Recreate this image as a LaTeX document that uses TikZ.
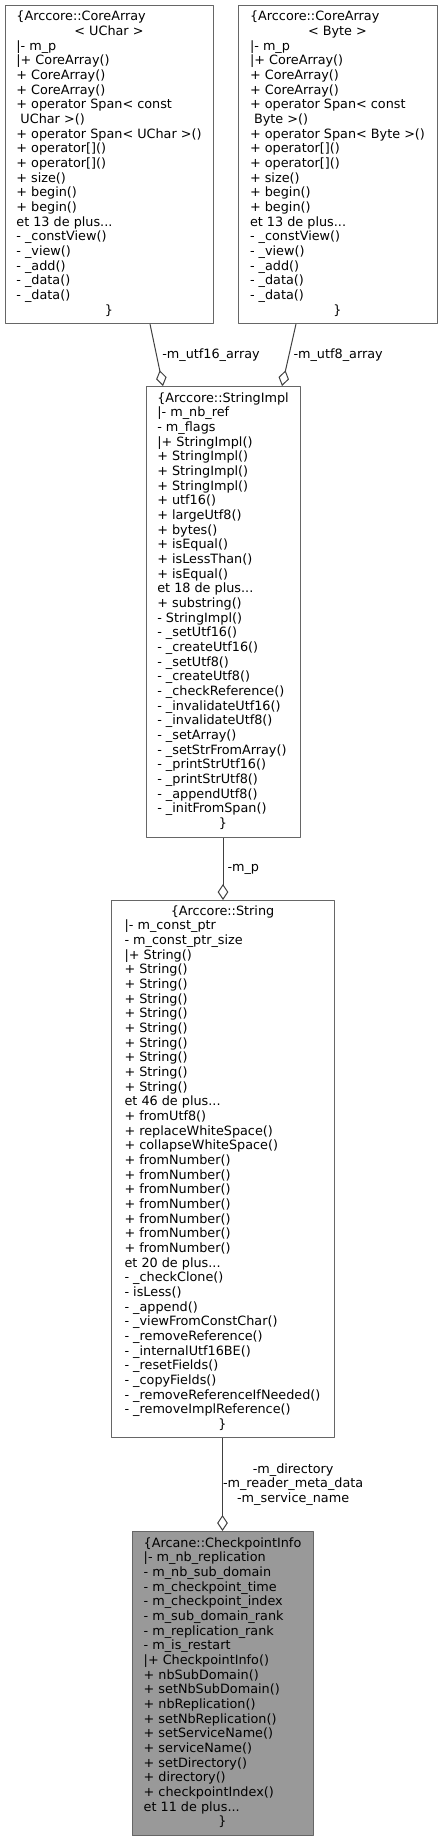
\documentclass[tikz,border=0pt]{standalone}
\usepackage{fontspec}
\setmainfont{DejaVu Sans}
\usetikzlibrary{arrows.meta,calc}
\definecolor{boxgray}{HTML}{666666}
\definecolor{edgegray}{HTML}{404040}
\definecolor{mainfill}{HTML}{999999}
\newcommand{\ctr}[1]{\multicolumn{1}{@{}c@{}}{#1}}
\begin{document}
\begin{tikzpicture}[x=0.75pt, y=-0.75pt, font=\fontsize{9.6}{11}\selectfont, line join=round,
		cls/.style={draw=boxgray, line width=0.75pt, fill=white, inner sep=0pt, anchor=north},
		edge/.style={draw=edgegray, line width=0.75pt, -{Diamond[open, length=12pt, width=8pt]}},
		lbl/.style={anchor=west, inner sep=3pt, align=center}]
		\useasboundingbox (0,0) rectangle (442,1840);
		\node[cls, minimum width=156pt, minimum height=238.5pt] (arrU) at (109,5) {\begin{tabular}{@{}l@{}}
			\{Arccore::CoreArray\\ \ctr{< UChar >}\\
			|- m\_p\\ |+ CoreArray()\\ + CoreArray()\\ + CoreArray()\\
			+ operator Span< const\\ \ UChar >()\\ + operator Span< UChar >()\\
			+ operator[]()\\ + operator[]()\\ + size()\\ + begin()\\ + begin()\\
			et 13 de plus...\\ - \_constView()\\ - \_view()\\ - \_add()\\ - \_data()\\ - \_data()\\
			\ctr{\}}
		\end{tabular}};
		\node[cls, minimum width=149.25pt, minimum height=238.5pt] (arrB) at (337.5,5) {\begin{tabular}{@{}l@{}}
			\{Arccore::CoreArray\\ \ctr{< Byte >}\\
			|- m\_p\\ |+ CoreArray()\\ + CoreArray()\\ + CoreArray()\\
			+ operator Span< const\\ \ Byte >()\\ + operator Span< Byte >()\\
			+ operator[]()\\ + operator[]()\\ + size()\\ + begin()\\ + begin()\\
			et 13 de plus...\\ - \_constView()\\ - \_view()\\ - \_add()\\ - \_data()\\ - \_data()\\
			\ctr{\}}
		\end{tabular}};
		\node[cls, minimum width=115.5pt, minimum height=338.25pt] (impl) at (223,386) {\begin{tabular}{@{}l@{}}
			\{Arccore::StringImpl\\ |- m\_nb\_ref\\ - m\_flags\\
			|+ StringImpl()\\ + StringImpl()\\ + StringImpl()\\ + StringImpl()\\
			+ utf16()\\ + largeUtf8()\\ + bytes()\\ + isEqual()\\ + isLessThan()\\ + isEqual()\\
			et 18 de plus...\\ + substring()\\ - StringImpl()\\ - \_setUtf16()\\ - \_createUtf16()\\
			- \_setUtf8()\\ - \_createUtf8()\\ - \_checkReference()\\ - \_invalidateUtf16()\\
			- \_invalidateUtf8()\\ - \_setArray()\\ - \_setStrFromArray()\\ - \_printStrUtf16()\\
			- \_printStrUtf8()\\ - \_appendUtf8()\\ - \_initFromSpan()\\
			\ctr{\}}
		\end{tabular}};
		\node[cls, minimum width=167.25pt, minimum height=402.75pt] (str) at (222.5,900) {\begin{tabular}{@{}l@{}}
			\ctr{\{Arccore::String}\\ |- m\_const\_ptr\\ - m\_const\_ptr\_size\\
			|+ String()\\ + String()\\ + String()\\ + String()\\ + String()\\
			+ String()\\ + String()\\ + String()\\ + String()\\ + String()\\
			et 46 de plus...\\ + fromUtf8()\\ + replaceWhiteSpace()\\ + collapseWhiteSpace()\\
			+ fromNumber()\\ + fromNumber()\\ + fromNumber()\\ + fromNumber()\\
			+ fromNumber()\\ + fromNumber()\\ + fromNumber()\\
			et 20 de plus...\\ - \_checkClone()\\ - isLess()\\ - \_append()\\ - \_viewFromConstChar()\\
			- \_removeReference()\\ - \_internalUtf16BE()\\ - \_resetFields()\\ - \_copyFields()\\
			- \_removeReferenceIfNeeded()\\ - \_removeImplReference()\\
			\ctr{\}}
		\end{tabular}};
		\node[cls, fill=mainfill, minimum width=135.75pt, minimum height=228pt] (chk) at (222.5,1531) {\begin{tabular}{@{}l@{}}
			\{Arcane::CheckpointInfo\\ |- m\_nb\_replication\\ - m\_nb\_sub\_domain\\
			- m\_checkpoint\_time\\ - m\_checkpoint\_index\\ - m\_sub\_domain\_rank\\
			- m\_replication\_rank\\ - m\_is\_restart\\ |+ CheckpointInfo()\\
			+ nbSubDomain()\\ + setNbSubDomain()\\ + nbReplication()\\ + setNbReplication()\\
			+ setServiceName()\\ + serviceName()\\ + setDirectory()\\ + directory()\\
			+ checkpointIndex()\\ et 11 de plus...\\
			\ctr{\}}
		\end{tabular}};
		\draw[edge] ($(arrU.south)+(41,0)$) -- node[lbl, inner sep=4pt] {-m\_utf16\_array} ($(impl.north)+(-60,0)$);
		\draw[edge] ($(arrB.south)+(-41.5,0)$) -- node[lbl] {-m\_utf8\_array} ($(impl.north)+(59,0)$);
		\draw[edge] (impl.south) -- node[lbl] {-m\_p} (impl.south |- str.north);
		\draw[edge] (str.south) -- node[lbl, inner sep=0pt] {-m\_directory\\-m\_reader\_meta\_data\\-m\_service\_name} (str.south |- chk.north);
	\end{tikzpicture}
\end{document}
